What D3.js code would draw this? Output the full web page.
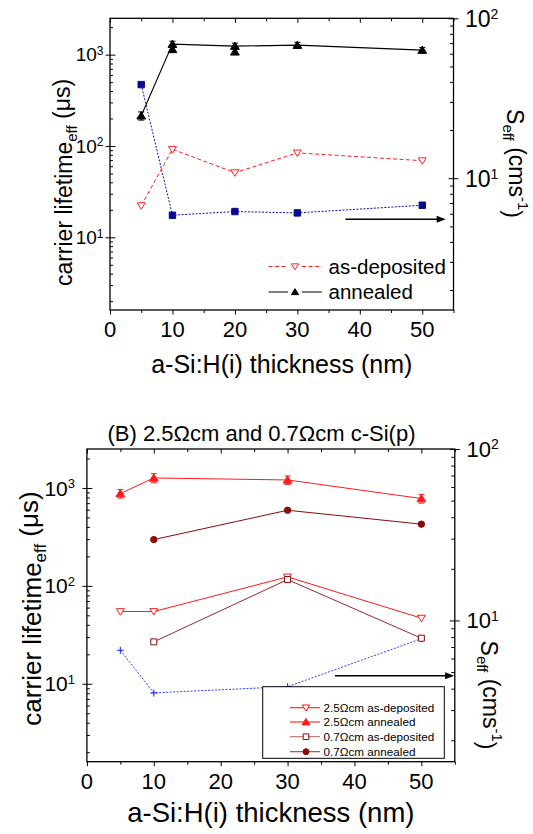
<!DOCTYPE html>
<html>
<head>
<meta charset="utf-8">
<script src="https://cdn.jsdelivr.net/npm/d3@7"></script>
<style>
  body { margin: 0; background: #fff; }
  svg { display: block; }
  text { font-family: "Liberation Sans", Arial, Helvetica, sans-serif; fill: #000; }
</style>
</head>
<body>
<svg id="chart" width="533" height="834"></svg>
<script>
// ---------- Panel A: lifetime vs. a-Si:H(i) thickness ----------
const thicknessA = [5, 10, 20, 30, 50];
const annealedA = [214, 1303, 1239, 1270, 1120];
const annealedErrA = [22, 100, 95, 95, 80];
const annealedRepeatX = [10, 20];
const annealedRepeatA = [1140, 1073];
const asDepositedA = [22.2, 92, 51, 84, 69];
const seffA = [38.5, 5.87, 6.19, 6.07, 6.78];

// ---------- Panel B: 2.5 Ωcm and 0.7 Ωcm wafers ----------
const thickness25 = [5, 10, 30, 50];
const annealed25 = [877, 1265, 1207, 780];
const annealedErr25 = [88, 135, 120, 80];
const asDeposited25 = [54.7, 54.7, 123.5, 46.8];
const thickness07 = [10, 30, 50];
const annealed07 = [297, 592, 427];
const asDeposited07 = [26.8, 116, 29.2];
const seffB = [6.7, 3.78, 4.11, 7.82];

// ---------- Axis ticks ----------
const xMajor = [0, 10, 20, 30, 40, 50];
const xMinor = [5, 15, 25, 35, 45, 55];
const lifeMajor = [10, 100, 1000];
const lifeExp = ["1", "2", "3"];
const lifeMinor = [2,3,4,5,6,7,8,9,20,30,40,50,60,70,80,90,200,300,400,500,600,700,800,900,2000];
const seffMajor = [10, 100];
const seffExp = ["1", "2"];
const seffMinor = [2,3,4,5,6,7,8,9,20,30,40,50,60,70,80,90];
const xDomain = [0, 55];
const lifeDomain = [1.6, 2500];
const seffDomain = [1.5, 100];

// Seff arrows (x start, x end, Seff level)
const arrowA = [37.7, 53.75, 5.55];
const arrowB = [37.1, 54.9, 4.75];

const svg = d3.select("#chart");

function markerPath(type, r) {
  switch (type) {
    case "up":     return `M0,${-r}L${r * 1.1},${r * 0.8}L${-r * 1.1},${r * 0.8}Z`;
    case "down":   return `M0,${r}L${r * 1.1},${-r * 0.8}L${-r * 1.1},${-r * 0.8}Z`;
    case "square": return `M${-r},${-r}H${r}V${r}H${-r}Z`;
    case "circle": return d3.symbol(d3.symbolCircle, Math.PI * r * r)();
    case "plus":   return `M${-r},0H${r}M0,${-r}V${r}`;
  }
}

function drawMarkers(g, xs, ys, x, y, type, r, stroke, fill, sw) {
  g.selectAll(null).data(xs.map((d, i) => [d, ys[i]])).enter()
    .append("path")
    .attr("transform", d => `translate(${x(d[0])},${y(d[1])})`)
    .attr("d", markerPath(type, r))
    .attr("fill", fill).attr("stroke", stroke).attr("stroke-width", sw || 1);
}

function drawLine(g, xs, ys, x, y, color, dash, width) {
  const line = d3.line().x(d => x(d[0])).y(d => y(d[1]));
  g.append("path").datum(xs.map((d, i) => [d, ys[i]]))
    .attr("d", line).attr("fill", "none")
    .attr("stroke", color).attr("stroke-width", width || 1)
    .attr("stroke-dasharray", dash || null);
}

function drawErrors(g, xs, ys, errs, x, y, color) {
  xs.forEach((d, i) => {
    const px = x(d), y0 = y(ys[i] - errs[i]), y1 = y(ys[i] + errs[i]);
    g.append("path")
      .attr("d", `M${px},${y0}V${y1}M${px - 3},${y0}H${px + 3}M${px - 3},${y1}H${px + 3}`)
      .attr("stroke", color).attr("stroke-width", 1).attr("fill", "none");
  });
}

function tidy(sel) {
  sel.select(".domain").remove();
  sel.selectAll(".tick line").attr("stroke", "#000").attr("stroke-width", 1);
}

function drawArrow(g, a, x, yR) {
  const x0 = x(a[0]), x1 = x(a[1]), py = yR(a[2]);
  g.append("line").attr("x1", x0).attr("x2", x1 - 6).attr("y1", py).attr("y2", py)
    .attr("stroke", "#000").attr("stroke-width", 1.5);
  g.append("path").attr("d", `M${x1},${py}L${x1 - 9},${py - 3.5}L${x1 - 9},${py + 3.5}Z`).attr("fill", "#000");
}

function buildPanel(o) {
  const g = svg.append("g");
  const x = d3.scaleLinear().domain(xDomain).range([o.left, o.right]);
  const yL = d3.scaleLog().domain(lifeDomain).range([o.bottom, o.top]);
  const yR = d3.scaleLog().domain(seffDomain).range([o.bottom, o.top]);

  // x ticks: outward at bottom, inward mirrored on top
  g.append("g").attr("transform", `translate(0,${o.bottom})`)
    .call(d3.axisBottom(x).tickValues(xMajor).tickSize(4.5).tickSizeOuter(0).tickFormat("")).call(tidy);
  g.append("g").attr("transform", `translate(0,${o.bottom})`)
    .call(d3.axisBottom(x).tickValues(xMinor).tickSize(3).tickSizeOuter(0).tickFormat("")).call(tidy);
  g.append("g").attr("transform", `translate(0,${o.top})`)
    .call(d3.axisBottom(x).tickValues(xMajor).tickSize(4.5).tickSizeOuter(0).tickFormat("")).call(tidy);
  g.append("g").attr("transform", `translate(0,${o.top})`)
    .call(d3.axisBottom(x).tickValues(xMinor).tickSize(3).tickSizeOuter(0).tickFormat("")).call(tidy);

  // left lifetime axis: major ticks cross the frame, minor ticks inward
  g.append("g").attr("transform", `translate(${o.left},0)`)
    .call(d3.axisLeft(yL).tickValues(lifeMajor).tickSize(4.5).tickSizeOuter(0).tickFormat("")).call(tidy);
  g.append("g").attr("transform", `translate(${o.left},0)`)
    .call(d3.axisRight(yL).tickValues(lifeMajor).tickSize(5.5).tickSizeOuter(0).tickFormat("")).call(tidy);
  g.append("g").attr("transform", `translate(${o.left},0)`)
    .call(d3.axisRight(yL).tickValues(lifeMinor).tickSize(3).tickSizeOuter(0).tickFormat("")).call(tidy);

  // right Seff axis
  g.append("g").attr("transform", `translate(${o.right},0)`)
    .call(d3.axisRight(yR).tickValues(seffMajor).tickSize(5).tickSizeOuter(0).tickFormat("")).call(tidy);
  g.append("g").attr("transform", `translate(${o.right},0)`)
    .call(d3.axisLeft(yR).tickValues(seffMajor).tickSize(5).tickSizeOuter(0).tickFormat("")).call(tidy);
  g.append("g").attr("transform", `translate(${o.right},0)`)
    .call(d3.axisLeft(yR).tickValues(seffMinor).tickSize(3.5).tickSizeOuter(0).tickFormat("")).call(tidy);

  // frame
  g.append("rect").attr("x", o.left).attr("y", o.top)
    .attr("width", o.right - o.left).attr("height", o.bottom - o.top)
    .attr("fill", "none").attr("stroke", "#000").attr("stroke-width", 1.3);

  // x tick labels
  g.selectAll(null).data(xMajor).enter().append("text")
    .attr("x", d => x(d)).attr("y", o.xLabelY)
    .attr("text-anchor", "middle").style("font-size", o.xTickFont + "px")
    .text(d => d);

  // left tick labels (10^n)
  lifeMajor.forEach((v, i) => {
    const t = g.append("text").attr("x", o.leftLabelEnd).attr("y", yL(v))
      .attr("text-anchor", "end").attr("dy", "0.36em").style("font-size", o.leftTickFont + "px");
    t.append("tspan").text("10");
    t.append("tspan").attr("dy", "-0.55em").style("font-size", o.leftSupFont + "px").text(lifeExp[i]);
  });

  // right tick labels
  seffMajor.forEach((v, i) => {
    const t = g.append("text").attr("x", o.rightLabelStart).attr("y", yR(v))
      .attr("dy", "0.36em").style("font-size", o.rightTickFont + "px");
    t.append("tspan").text("10");
    t.append("tspan").attr("dy", "-0.55em").style("font-size", o.rightSupFont + "px").text(seffExp[i]);
  });

  // x axis title
  g.append("text").attr("x", (o.left + o.right) / 2).attr("y", o.xTitleY)
    .attr("text-anchor", "middle").style("font-size", o.xTitleFont + "px")
    .text("a-Si:H(i) thickness (nm)");

  // left axis title
  const lt = g.append("text")
    .attr("transform", `translate(${o.yTitleX},${o.yTitleCY}) rotate(-90)`)
    .attr("text-anchor", "middle").style("font-size", o.yTitleFont + "px");
  lt.append("tspan").text("carrier lifetime");
  lt.append("tspan").attr("dy", "0.3em").style("font-size", (o.yTitleFont * 0.65) + "px").text("eff");
  lt.append("tspan").attr("dy", "-0.3em").text(" (\u03bcs)");

  // right axis title
  const rt = g.append("text")
    .attr("transform", `translate(${o.rTitleX},${o.rTitleCY}) rotate(90)`)
    .attr("text-anchor", "middle").style("font-size", o.rTitleFont + "px");
  rt.append("tspan").text("S");
  rt.append("tspan").attr("dy", "0.3em").style("font-size", (o.rTitleFont * 0.65) + "px").text("eff");
  rt.append("tspan").attr("dy", "-0.3em").text(" (cms");
  rt.append("tspan").attr("dy", "-0.55em").style("font-size", (o.rTitleFont * 0.65) + "px").text("-1");
  rt.append("tspan").attr("dy", "0.55em").text(")");

  return { g, x, yL, yR };
}

// ================= Panel A =================
const A = buildPanel({
  left: 110, right: 453.5, top: 18.3, bottom: 310,
  xLabelY: 336.5, xTickFont: 22,
  leftLabelEnd: 103.5, leftTickFont: 19, leftSupFont: 12,
  rightLabelStart: 465, rightTickFont: 23, rightSupFont: 14,
  xTitleY: 372.5, xTitleFont: 25,
  yTitleX: 72, yTitleCY: 182.5, yTitleFont: 23,
  rTitleX: 507, rTitleCY: 163.5, rTitleFont: 23
});

drawLine(A.g, thicknessA, seffA, A.x, A.yR, "#1010b0", "2,1.5", 1);
drawLine(A.g, thicknessA, asDepositedA, A.x, A.yL, "#ff2020", "4,2.5", 1);
drawLine(A.g, thicknessA, annealedA, A.x, A.yL, "#000", null, 1.1);
drawErrors(A.g, thicknessA, annealedA, annealedErrA, A.x, A.yL, "#000");
drawMarkers(A.g, thicknessA, seffA, A.x, A.yR, "square", 3.2, "#0a0a90", "#0a0a90");
drawMarkers(A.g, thicknessA, asDepositedA, A.x, A.yL, "down", 3.6, "#ff2020", "#fff", 1);
drawMarkers(A.g, annealedRepeatX, annealedRepeatA, A.x, A.yL, "up", 4, "#000", "#000");
drawMarkers(A.g, thicknessA, annealedA, A.x, A.yL, "up", 4, "#000", "#000");
drawArrow(A.g, arrowA, A.x, A.yR);

// legend A
const legA = A.g.append("g");
[
  { label: "as-deposited", color: "#ff2020", dash: "4,2.5", type: "down", fill: "#fff", y: 266.5 },
  { label: "annealed", color: "#000", dash: null, type: "up", fill: "#000", y: 292 }
].forEach(e => {
  legA.append("line").attr("x1", 268.5).attr("x2", 288).attr("y1", e.y).attr("y2", e.y)
    .attr("stroke", e.color).attr("stroke-dasharray", e.dash);
  legA.append("line").attr("x1", 302).attr("x2", 322).attr("y1", e.y).attr("y2", e.y)
    .attr("stroke", e.color).attr("stroke-dasharray", e.dash);
  legA.append("path").attr("transform", `translate(295,${e.y})`).attr("d", markerPath(e.type, 3.3))
    .attr("stroke", e.color).attr("fill", e.fill);
  legA.append("text").attr("x", 328.5).attr("y", e.y + 7).style("font-size", "20.5px").text(e.label);
});

// ================= Panel B =================
const B = buildPanel({
  left: 86.9, right: 454.8, top: 449, bottom: 761.7,
  xLabelY: 789, xTickFont: 22,
  leftLabelEnd: 75, leftTickFont: 21, leftSupFont: 13,
  rightLabelStart: 466.5, rightTickFont: 22, rightSupFont: 14,
  xTitleY: 821.5, xTitleFont: 27.5,
  yTitleX: 41, yTitleCY: 608.5, yTitleFont: 26,
  rTitleX: 481, rTitleCY: 695, rTitleFont: 23
});

svg.append("text").attr("x", 261.5).attr("y", 441).attr("text-anchor", "middle")
  .style("font-size", "22px").text("(B) 2.5\u03a9cm and 0.7\u03a9cm c-Si(p)");

const red = "#ff1a1a", darkRed = "#8b0a0a", brown = "#9a2a2a";
drawLine(B.g, thickness25, seffB, B.x, B.yR, "#3040ff", "2,1.5", 1);
drawLine(B.g, thickness25, annealed25, B.x, B.yL, red, null, 1);
drawLine(B.g, thickness07, annealed07, B.x, B.yL, darkRed, null, 1);
drawLine(B.g, thickness25, asDeposited25, B.x, B.yL, red, null, 1);
drawLine(B.g, thickness07, asDeposited07, B.x, B.yL, brown, null, 1);
drawErrors(B.g, thickness25, annealed25, annealedErr25, B.x, B.yL, red);
drawMarkers(B.g, thickness25, seffB, B.x, B.yR, "plus", 3.5, "#2030ff", "none", 1.1);
drawMarkers(B.g, thickness25, annealed25, B.x, B.yL, "up", 4, red, red);
drawMarkers(B.g, thickness07, annealed07, B.x, B.yL, "circle", 3.2, darkRed, darkRed);
drawMarkers(B.g, thickness25, asDeposited25, B.x, B.yL, "down", 3.6, red, "#fff", 1);
drawMarkers(B.g, thickness07, asDeposited07, B.x, B.yL, "square", 3, darkRed, "#fff", 1);
drawArrow(B.g, arrowB, B.x, B.yR);

// legend B
const legB = B.g.append("g");
legB.append("rect").attr("x", 262.7).attr("y", 686.7).attr("width", 181.6).attr("height", 71.6)
  .attr("fill", "#fff").attr("stroke", "#000").attr("stroke-width", 1);
[
  { label: "2.5\u03a9cm as-deposited", line: red, stroke: red, fill: "#fff", type: "down", r: 3.4, y: 707.7 },
  { label: "2.5\u03a9cm annealed", line: red, stroke: red, fill: red, type: "up", r: 3.6, y: 722 },
  { label: "0.7\u03a9cm as-deposited", line: "#b86a6a", stroke: darkRed, fill: "#fff", type: "square", r: 2.8, y: 736.7 },
  { label: "0.7\u03a9cm annealed", line: "#a03838", stroke: darkRed, fill: darkRed, type: "circle", r: 3, y: 751.7 }
].forEach(e => {
  legB.append("line").attr("x1", 290).attr("x2", 320).attr("y1", e.y).attr("y2", e.y)
    .attr("stroke", e.line).attr("stroke-width", 1.1);
  legB.append("path").attr("transform", `translate(306,${e.y})`).attr("d", markerPath(e.type, e.r))
    .attr("stroke", e.stroke).attr("fill", e.fill);
  legB.append("text").attr("x", 323.5).attr("y", e.y + 4.2).style("font-size", "11.7px").text(e.label);
});
</script>
</body>
</html>
